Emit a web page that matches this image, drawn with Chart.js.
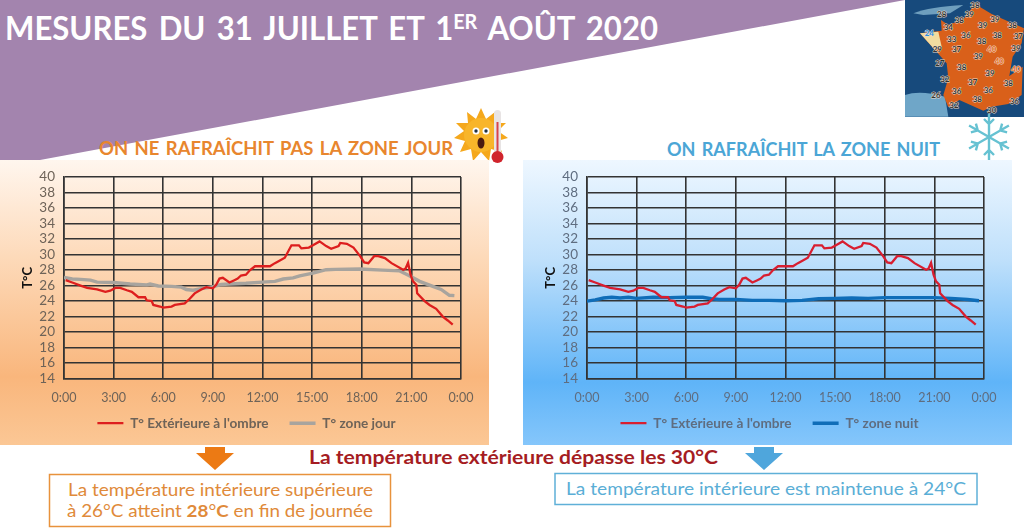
<!DOCTYPE html>
<html>
<head>
<meta charset="utf-8">
<script src="https://cdn.jsdelivr.net/npm/chart.js@4"></script>
<style>
html, body { margin: 0; padding: 0; background: #fff; overflow: hidden; }
#page { position: relative; width: 1024px; height: 531px; font-family: Lato, sans-serif; overflow: hidden; }
#deco { position: absolute; left: 0; top: 0; }
.panel { position: absolute; top: 160px; width: 489px; height: 285px; }
#panelJour { left: 0; background: linear-gradient(#fff6ee 0%, #fdd9b8 35%, #f9b67c 76%, #fbc795 100%); }
#panelNuit { left: 523px; background: linear-gradient(#eef7ff 0%, #bfe0fb 35%, #5fb4f8 78%, #85c6fb 100%); }
canvas { position: absolute; left: 0; top: 0; }
</style>
</head>
<body>
<div id="page">
<svg id="deco" width="1024" height="531" font-family="Lato, sans-serif">
  <polygon points="0,0 905,0 40,160 0,160" fill="#a384ae"/>
  <text x="5" y="40" font-size="33" font-weight="700" fill="#fff" word-spacing="4" textLength="653" lengthAdjust="spacingAndGlyphs">MESURES DU 31 JUILLET ET 1<tspan font-size="21" dy="-11">ER</tspan><tspan dy="11"> AOÛT 2020</tspan></text>

  <rect x="905" y="0" width="119" height="117" fill="#174a7c"/>
  <g transform="translate(880 0) scale(0.3333)" font-size="24" font-weight="700" fill="#333" text-anchor="middle" stroke="#ead9c8" stroke-width="3" paint-order="stroke">
    <path d="M75 285 Q120 270 195 290 L205 350 L75 350 Z" fill="#6fa6c8" stroke="none"/>
    <path d="M100 40 Q150 20 250 15 L210 40 L130 45 Z" fill="#6f9fbe" stroke="none"/>
    <path d="M120 100 L185 92 L183 60 L205 75 L250 58 L285 12 L335 42 L432 85 L425 130 L398 170 L388 228 L428 200 L425 285 L385 312 L335 320 L310 332 L238 300 L205 322 L190 285 L205 235 L200 190 L165 150 Z" fill="#d9601a" stroke="none"/>
    <path d="M120 100 L175 95 L185 140 L165 150 Z" fill="#f2dca0" stroke="none"/>
    <text x="185" y="52">28</text><text x="285" y="24">38</text><text x="268" y="52">39</text><text x="238" y="70">38</text>
    <text x="345" y="65">39</text><text x="205" y="90">34</text><text x="308" y="83">39</text><text x="397" y="84">38</text>
    <text x="148" y="107" fill="#2b8fe0">24</text><text x="215" y="125">33</text><text x="258" y="115">36</text><text x="305" y="131">38</text>
    <text x="352" y="113">38</text><text x="415" y="117">37</text><text x="172" y="157">29</text><text x="230" y="157">37</text>
    <text x="335" y="157" fill="#e86a20">40</text><text x="408" y="153">39</text><text x="295" y="178">39</text><text x="180" y="197">27</text>
    <text x="245" y="209">38</text><text x="358" y="193" fill="#e86a20">40</text><text x="330" y="229">39</text><text x="408" y="217" fill="#e86a20">40</text>
    <text x="195" y="247">32</text><text x="278" y="254">37</text><text x="385" y="257">38</text><text x="230" y="281">36</text>
    <text x="325" y="280">36</text><text x="168" y="295">26</text><text x="292" y="305">38</text><text x="403" y="312">36</text>
    <text x="222" y="323">32</text><text x="335" y="340">30</text>
  </g>

  <text x="99" y="155" font-size="19" font-weight="700" fill="#e8862e" word-spacing="2" textLength="354" lengthAdjust="spacingAndGlyphs">ON NE RAFRAÎCHIT PAS LA ZONE JOUR</text>
  <text x="667" y="156" font-size="19" font-weight="700" fill="#4ba6d6" word-spacing="2" textLength="273" lengthAdjust="spacingAndGlyphs">ON RAFRAÎCHIT LA ZONE NUIT</text>

  <g transform="translate(481 135)">
    <polygon points="0,-27 5,-16 14,-23 13,-12 25,-12 17,-4 27,3 16,6 21,17 10,14 8,26 0,17 -8,26 -10,14 -21,17 -16,6 -27,3 -17,-4 -25,-12 -13,-12 -14,-23 -5,-16" fill="#f5a81c"/>
    <circle r="17" fill="#f8b52a"/>
    <circle cx="-5" cy="-4" r="3.5" fill="#fff"/><circle cx="5" cy="-4" r="3.5" fill="#fff"/>
    <circle cx="-5" cy="-4" r="1.7" fill="#234"/><circle cx="5" cy="-4" r="1.7" fill="#234"/>
    <ellipse cx="0" cy="8" rx="3.5" ry="5.5" fill="#4a1a10"/>
  </g>
  <rect x="494" y="110" width="7" height="46" rx="3.5" fill="#e8e4e4"/>
  <rect x="496.5" y="122" width="2" height="34" fill="#d8434a"/>
  <circle cx="497.5" cy="157" r="6" fill="#d0242c"/>

  <g transform="translate(989 137)" stroke="#66c2d2" stroke-width="2.4" fill="none">
    <path d="M0 -23 V23 M-5 -18 L0 -13 L5 -18 M-5 18 L0 13 L5 18"/>
    <path d="M0 -23 V23 M-5 -18 L0 -13 L5 -18 M-5 18 L0 13 L5 18" transform="rotate(60)"/>
    <path d="M0 -23 V23 M-5 -18 L0 -13 L5 -18 M-5 18 L0 13 L5 18" transform="rotate(120)"/>
  </g>

  <polygon points="205,447 225,447 225,453 234,453 215,470 196,453 205,453" fill="#ec7a14"/>
  <polygon points="754,447 774,447 774,453 783,453 764,470 745,453 754,453" fill="#4fa6dc"/>

  <text x="309" y="464" font-size="18" font-weight="700" fill="#a51c22" textLength="409" lengthAdjust="spacingAndGlyphs">La température extérieure dépasse les 30°C</text>

  <rect x="49.5" y="474.5" width="341" height="52" fill="#fff" stroke="#e8923c" stroke-width="1.5"/>
  <text x="68" y="495.5" font-size="17" fill="#e08a3a" textLength="305" lengthAdjust="spacingAndGlyphs">La température intérieure supérieure</text>
  <text x="67" y="517" font-size="17" fill="#e08a3a" textLength="306" lengthAdjust="spacingAndGlyphs">à 26°C atteint <tspan font-weight="700">28</tspan>°<tspan font-weight="700">C</tspan> en fin de journée</text>

  <rect x="555" y="473.5" width="422" height="31" fill="#fff" stroke="#5fb0d8" stroke-width="1.5"/>
  <text x="566" y="495" font-size="17" fill="#5aaed6" textLength="400" lengthAdjust="spacingAndGlyphs">La température intérieure est maintenue à 24°C</text>
</svg>

<div class="panel" id="panelJour"><canvas id="chartJour" width="489" height="289"></canvas></div>
<div class="panel" id="panelNuit"><canvas id="chartNuit" width="489" height="289"></canvas></div>
</div>

<script>
const heuresExt = [0.1, 0.5, 1, 1.4, 2, 2.5, 2.8, 3.1, 3.4, 3.8, 4.1, 4.5, 4.9, 5, 5.3, 5.4, 5.8, 6, 6.5, 6.7, 7.3, 7.6, 7.9, 8.3, 8.6, 9, 9.2, 9.4, 9.6, 10, 10.3, 10.5, 10.7, 11, 11.25, 11.55, 12.45, 12.75, 13.05, 13.35, 13.75, 14.2, 14.35, 14.8, 15.05, 15.45, 15.85, 16.15, 16.6, 16.7, 17.1, 17.5, 17.9, 18.15, 18.4, 18.75, 19, 19.4, 19.8, 20.5, 20.65, 20.8, 20.95, 21.1, 21.3, 21.35, 21.8, 22.1, 22.5, 22.9, 23.2, 23.5];
const tempExt = [26.7, 26.4, 26, 25.7, 25.5, 25.2, 25.35, 25.7, 25.7, 25.4, 25.2, 24.5, 24.5, 24.1, 24, 23.5, 23.3, 23.15, 23.3, 23.5, 23.7, 24.3, 25, 25.5, 25.8, 25.65, 26.1, 26.9, 27, 26.4, 26.7, 26.9, 27.3, 27.4, 28, 28.5, 28.5, 28.9, 29.25, 29.6, 31.2, 31.2, 30.8, 30.9, 31.2, 31.7, 31.1, 30.75, 31.1, 31.5, 31.4, 30.9, 29.8, 29, 28.9, 29.8, 29.8, 29.55, 28.9, 28.05, 28.2, 28.95, 27.4, 26.55, 26.1, 25, 24, 23.5, 23, 22, 21.5, 20.95];

const heuresJour = [0, 0.5, 1, 1.6, 2, 3, 4, 5, 5.2, 5.7, 6.5, 7.1, 7.4, 7.8, 8.4, 9, 9.5, 10, 11, 12, 12.75, 13.25, 13.85, 14.25, 15.05, 15.85, 16.4, 17.9, 19.25, 20.3, 20.85, 21.5, 22.3, 22.8, 23.3, 23.6];
const tempJour = [27.05, 26.85, 26.8, 26.7, 26.45, 26.4, 26.2, 26.1, 26.2, 25.95, 25.9, 25.8, 25.5, 25.4, 25.65, 25.85, 26.15, 26.2, 26.3, 26.45, 26.55, 26.85, 27, 27.25, 27.6, 28.05, 28.1, 28.15, 28, 27.9, 27.3, 26.55, 25.9, 25.5, 24.75, 24.7];

const heuresNuit = [0, 0.5, 1, 1.5, 2, 2.5, 3, 4, 5, 6, 7, 7.5, 8, 9, 10, 11, 12, 13, 14, 15, 16, 17, 18, 19, 20, 21, 22, 23, 23.7];
const tempNuit = [24, 24.15, 24.4, 24.5, 24.4, 24.5, 24.35, 24.5, 24.45, 24.5, 24.5, 24.3, 24.2, 24.2, 24.1, 24.1, 24.05, 24.1, 24.3, 24.35, 24.4, 24.35, 24.45, 24.45, 24.45, 24.45, 24.35, 24.2, 24.05];

const nomExt = "T° Extérieure à l'ombre";
const nomJour = "T° zone jour";
const nomNuit = "T° zone nuit";

function points(heures, temps) {
    return heures.map((h, i) => ({ x: h, y: temps[i] }));
}

// legend a little right of the padding centre; x labels are clipped to the axis box, so let it run into the legend gap
const ajusteLayout = {
    id: "ajusteLayout",
    afterLayout(chart) {
        chart.legend.left += 12;
        chart.scales.x.bottom += 14;
    }
};

function drawChart(id, nomZone, heuresZone, tempZone, couleurExt, couleurZone, couleurTexte) {
    new Chart(document.getElementById(id), {
        type: "line",
        plugins: [ajusteLayout],
        data: {
            datasets: [
                { label: nomExt, data: points(heuresExt, tempExt), borderColor: couleurExt, borderWidth: 2.3, pointRadius: 0, tension: 0 },
                { label: nomZone, data: points(heuresZone, tempZone), borderColor: couleurZone, borderWidth: 3.4, pointRadius: 0, tension: 0 }
            ]
        },
        options: {
            responsive: false,
            animation: false,
            layout: { padding: { top: 15.5, right: 28, bottom: 9, left: 20 } },
            plugins: {
                tooltip: { enabled: false },
                legend: {
                    position: "bottom",
                    labels: {
                        usePointStyle: true,
                        pointStyle: "line",
                        pointStyleWidth: 26,
                        padding: 21,
                        color: couleurTexte,
                        font: { family: "Lato", size: 13.6, weight: "bold" }
                    }
                }
            },
            scales: {
                x: {
                    type: "linear",
                    min: 0,
                    max: 24,
                    afterFit: s => { s.height = 16.8; },
                    border: { color: "#333", width: 1.6 },
                    grid: { color: "#333", lineWidth: 1.6, drawTicks: false },
                    ticks: {
                        stepSize: 3,
                        autoSkip: false,
                        padding: 11.5,
                        maxRotation: 0,
                        color: couleurTexte,
                        font: { family: "Lato", size: 12.5 },
                        callback: v => (v % 24) + ":00"
                    }
                },
                y: {
                    min: 14,
                    max: 40,
                    afterFit: s => { s.width = 44; },
                    border: { color: "#333", width: 1.6 },
                    grid: { color: "#333", lineWidth: 1.6, drawTicks: false },
                    title: { display: true, text: "T°C", color: "#111", padding: 0, font: { family: "Lato", size: 13, weight: "bold" } },
                    ticks: {
                        stepSize: 2,
                        autoSkip: false,
                        padding: 9,
                        color: couleurTexte,
                        font: { family: "Lato", size: 13.5 }
                    }
                }
            }
        }
    });
}

drawChart("chartJour", nomJour, heuresJour, tempJour, "#dd1e1e", "#a8a49e", "#6e6358");
drawChart("chartNuit", nomNuit, heuresNuit, tempNuit, "#d81e30", "#0f6db8", "#5f6d80");
</script>
</body>
</html>
